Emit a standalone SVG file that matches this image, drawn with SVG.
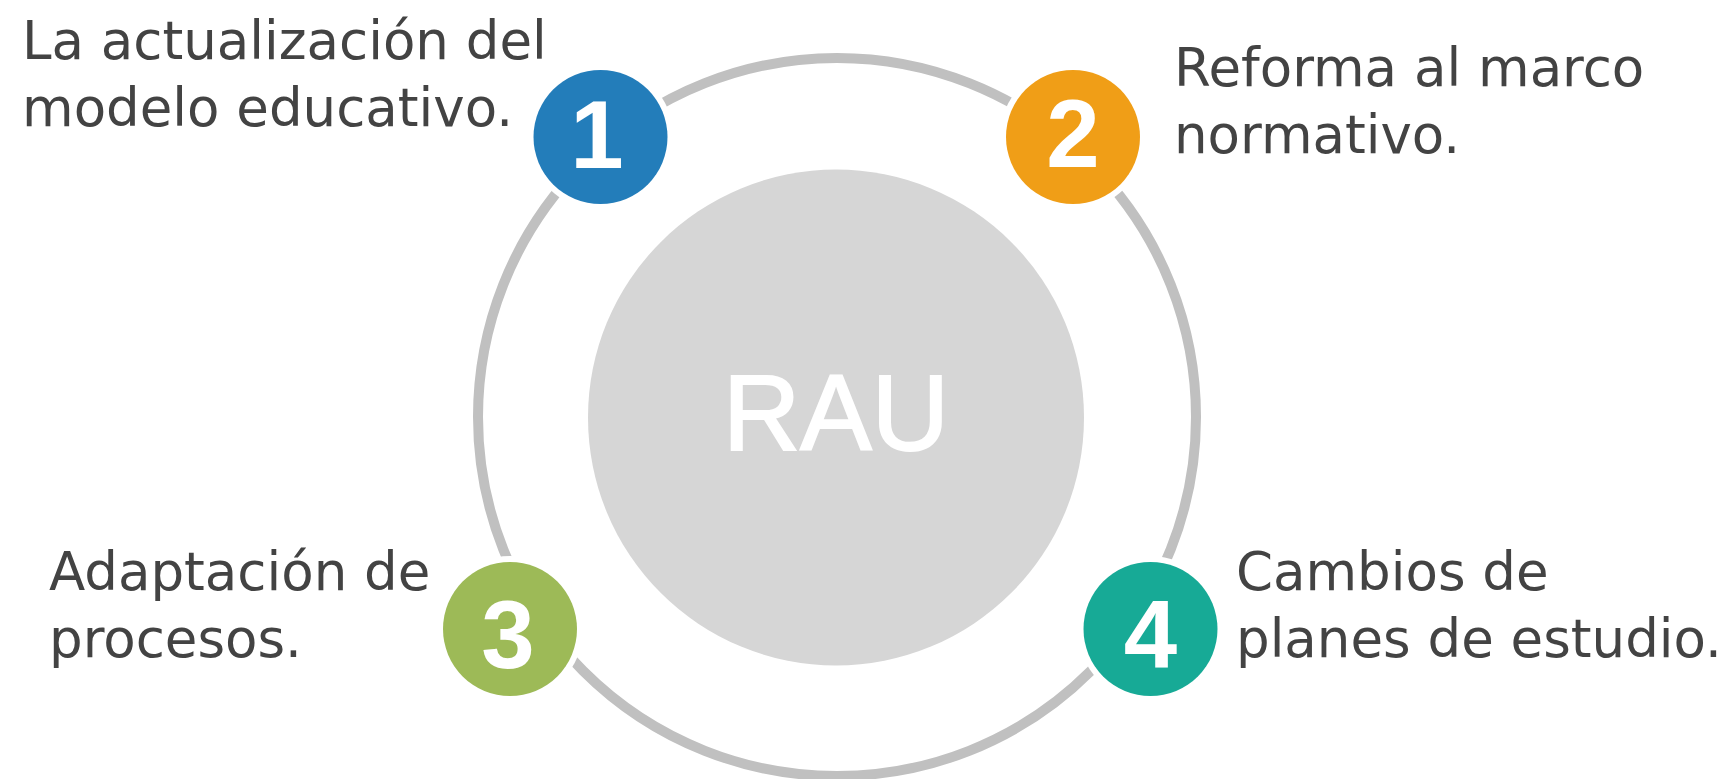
<svg xmlns="http://www.w3.org/2000/svg" width="1725" height="779" viewBox="0 0 1725 779">
  <style>
    .ring { fill: none; stroke: #c0c0c0; stroke-width: 10; }
    .halo { fill: #ffffff; }
    .num { font-family: "Liberation Sans", Arial, sans-serif; font-weight: bold; font-size: 96px; fill: #ffffff; text-anchor: middle; }
    .label { font-family: "DejaVu Sans", "Liberation Sans", sans-serif; font-size: 53px; fill: #434343; }
    .core { font-family: "Liberation Sans", Arial, sans-serif; font-size: 107px; fill: #ffffff; stroke: #ffffff; stroke-width: 2; text-anchor: middle; }
  </style>
  <rect width="1725" height="779" fill="#ffffff"/>
  <g id="connectors">
    <circle class="ring" cx="837" cy="417" r="359"/>
  </g>
  <g id="center">
    <circle cx="836" cy="417.5" r="248" fill="#d6d6d6"/>
    <text class="core" x="836" y="450">RAU</text>
  </g>
  <g id="node1">
    <circle class="halo" cx="600.5" cy="137" r="73"/>
    <circle cx="600.5" cy="137" r="67" fill="#237dba"/>
    <text class="num" x="597" y="168">1</text>
    <text class="label" x="22" y="59">La actualización del</text>
    <text class="label" x="22" y="126">modelo educativo.</text>
  </g>
  <g id="node2">
    <circle class="halo" cx="1073" cy="137" r="73"/>
    <circle cx="1073" cy="137" r="67" fill="#f09e17"/>
    <text class="num" x="1073" y="167">2</text>
    <text class="label" x="1174" y="86">Reforma al marco</text>
    <text class="label" x="1174" y="153">normativo.</text>
  </g>
  <g id="node3">
    <circle class="halo" cx="510" cy="629" r="73"/>
    <circle cx="510" cy="629" r="67" fill="#9dba57"/>
    <text class="num" x="508" y="668">3</text>
    <text class="label" x="49" y="590">Adaptación de</text>
    <text class="label" x="49" y="657">procesos.</text>
  </g>
  <g id="node4">
    <circle class="halo" cx="1150.5" cy="629" r="73"/>
    <circle cx="1150.5" cy="629" r="67" fill="#17aa96"/>
    <text class="num" x="1150.5" y="668">4</text>
    <text class="label" x="1236" y="590">Cambios de</text>
    <text class="label" x="1236" y="657">planes de estudio.</text>
  </g>
</svg>
